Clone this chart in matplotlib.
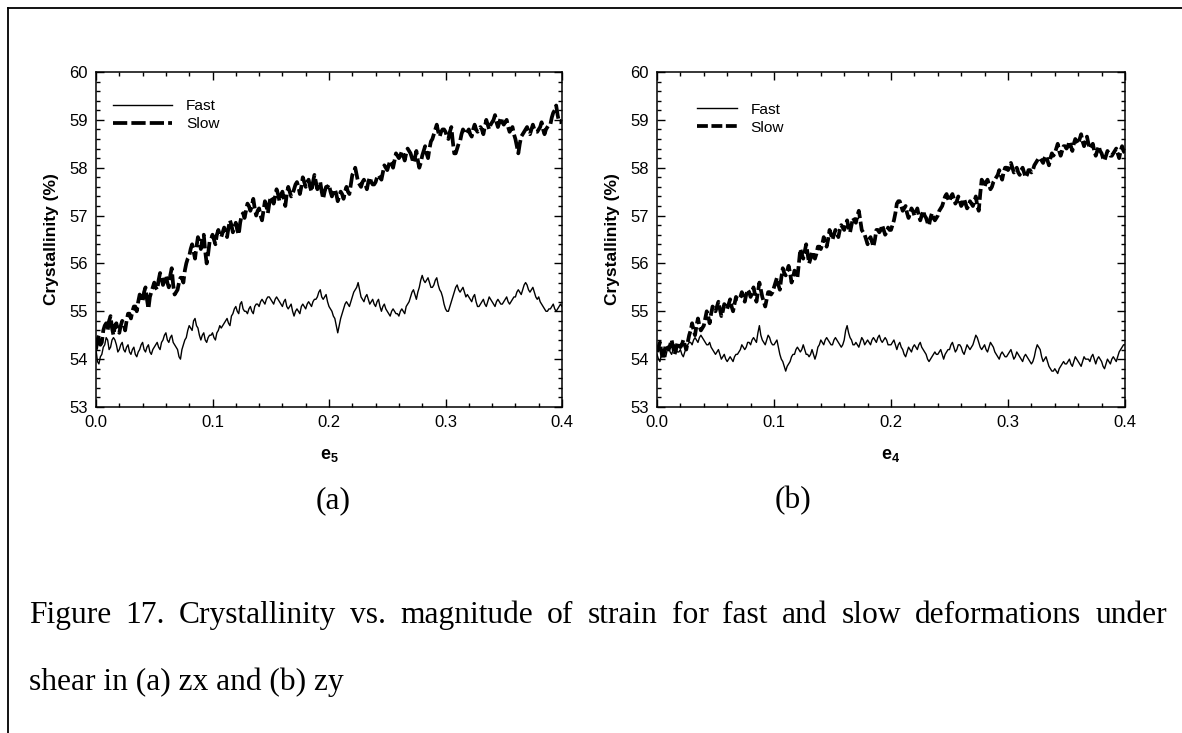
import numpy as np
import matplotlib
matplotlib.use("Agg")
import matplotlib.pyplot as plt
from matplotlib.lines import Line2D
from matplotlib.ticker import MultipleLocator

# ---------------- data ----------------
# samples on a 0.0025 grid plus the in-between samples (0.00125 offset)
strain = [round(i * 0.00125, 5) for i in range(321)]

slow_a = [
    54.2, 54.5, 54.35, 54.7, 54.6, 54.9, 54.5, 54.75, 54.55, 54.8, 54.6, 54.95,
    54.85, 55.1, 55.0, 55.35, 55.2, 55.5, 55.05, 55.4, 55.6, 55.45, 55.8, 55.55,
    55.75, 55.5, 55.9, 55.35, 55.45, 55.7, 55.6, 56.0, 56.15, 56.4, 56.1, 56.55,
    56.3, 56.6, 56.0, 56.45, 56.6, 56.4, 56.7, 56.55, 56.75, 56.55, 56.9, 56.65,
    56.85, 56.6, 57.0, 56.95, 57.25, 57.1, 57.35, 57.0, 57.15, 56.9, 57.3, 57.05,
    57.4, 57.25, 57.55, 57.3, 57.5, 57.2, 57.6, 57.4, 57.55, 57.7, 57.45, 57.8,
    57.6, 57.75, 57.5, 57.85, 57.55, 57.7, 57.35, 57.6, 57.65, 57.4, 57.55, 57.3,
    57.5, 57.35, 57.6, 57.45, 57.85, 58.0, 57.7, 57.6, 57.75, 57.55, 57.8, 57.65,
    57.7, 57.85, 57.75, 58.05, 57.95, 58.15, 58.0, 58.3, 58.2, 58.35, 58.15, 58.4,
    58.3, 58.1, 58.35, 58.0, 58.25, 58.45, 58.2, 58.55, 58.7, 58.9, 58.65, 58.8,
    58.75, 58.6, 58.85, 58.3, 58.4, 58.55, 58.8, 58.7, 58.8, 58.65, 58.9, 58.75,
    58.85, 58.7, 59.0, 58.8, 58.95, 59.1, 58.85, 59.05, 58.9, 59.0, 58.75, 58.85,
    58.6, 58.3, 58.65, 58.75, 58.85, 58.7, 58.9, 58.75, 58.8, 58.95, 58.7, 58.85,
    58.9, 59.15, 59.3, 58.95, 59.0,
]
slow_a_mid = [
    54.4, 54.3, 54.6, 54.75, 54.8, 54.65, 54.7, 54.6, 54.7, 54.75, 54.8, 54.95,
    55.0, 55.1, 55.2, 55.3, 55.4, 55.25, 55.3, 55.5, 55.5, 55.65, 55.7, 55.65,
    55.6, 55.75, 55.55, 55.4, 55.6, 55.7, 55.85, 56.1, 56.3, 56.25, 56.35, 56.45,
    56.5, 56.25, 56.2, 56.5, 56.5, 56.6, 56.6, 56.65, 56.65, 56.75, 56.8, 56.75,
    56.7, 56.85, 57.05, 57.1, 57.2, 57.2, 57.15, 57.1, 57.0, 57.1, 57.2, 57.25,
    57.35, 57.4, 57.45, 57.4, 57.35, 57.45, 57.5, 57.45, 57.65, 57.6, 57.6, 57.7,
    57.7, 57.6, 57.7, 57.7, 57.65, 57.5, 57.5, 57.6, 57.5, 57.5, 57.45, 57.4,
    57.45, 57.5, 57.5, 57.65, 57.9, 57.85, 57.65, 57.7, 57.65, 57.7, 57.7, 57.65,
    57.8, 57.8, 57.9, 58.0, 58.05, 58.1, 58.15, 58.25, 58.25, 58.25, 58.3, 58.35,
    58.2, 58.2, 58.15, 58.1, 58.35, 58.3, 58.4, 58.6, 58.8, 58.75, 58.75, 58.8,
    58.65, 58.75, 58.55, 58.3, 58.5, 58.7, 58.75, 58.75, 58.7, 58.8, 58.8, 58.8,
    58.8, 58.85, 58.9, 58.9, 59.0, 58.95, 58.95, 58.95, 58.95, 58.85, 58.8, 58.7,
    58.45, 58.5, 58.7, 58.8, 58.75, 58.8, 58.8, 58.75, 58.85, 58.8, 58.8, 58.9,
    59.05, 59.2, 59.1, 58.95,
]

fast_a = [
    54.2, 53.9, 54.1, 54.3, 54.4, 54.25, 54.45, 54.3, 54.2, 54.35, 54.15, 54.3,
    54.1, 54.25, 54.05, 54.2, 54.35, 54.15, 54.3, 54.1, 54.25, 54.35, 54.2, 54.4,
    54.55, 54.35, 54.5, 54.3, 54.2, 54.0, 54.3, 54.45, 54.7, 54.6, 54.85, 54.65,
    54.4, 54.55, 54.35, 54.5, 54.55, 54.4, 54.6, 54.65, 54.75, 54.85, 54.7, 54.95,
    55.1, 54.95, 55.2, 55.0, 54.95, 55.1, 54.95, 55.15, 55.1, 55.25, 55.15, 55.3,
    55.25, 55.15, 55.3, 55.2, 55.1, 55.25, 55.05, 55.15, 54.9, 55.05, 54.95, 55.15,
    55.05, 55.2, 55.1, 55.25, 55.3, 55.45, 55.25, 55.35, 55.1, 55.0, 54.85, 54.55,
    54.85, 55.05, 55.2, 55.1, 55.3, 55.45, 55.6, 55.3, 55.2, 55.35, 55.15, 55.25,
    55.1, 55.25, 55.0, 55.15, 55.0, 54.9, 55.05, 54.95, 54.9, 55.05, 54.95, 55.15,
    55.3, 55.45, 55.25, 55.5, 55.75, 55.6, 55.7, 55.5, 55.55, 55.7, 55.45, 55.3,
    55.05, 55.0, 55.2, 55.4, 55.55, 55.4, 55.5, 55.3, 55.3, 55.2, 55.35, 55.1,
    55.15, 55.25, 55.1, 55.3, 55.2, 55.1, 55.25, 55.15, 55.2, 55.3, 55.15, 55.25,
    55.3, 55.45, 55.35, 55.55, 55.55, 55.4, 55.5, 55.3, 55.3, 55.15, 55.05, 55.0,
    55.05, 55.15, 55.0, 55.1, 55.1,
]
fast_a_mid = [
    53.95, 54.05, 54.25, 54.45, 54.2, 54.4, 54.4, 54.15, 54.3, 54.2, 54.25, 54.15,
    54.2, 54.1, 54.15, 54.3, 54.2, 54.25, 54.15, 54.2, 54.3, 54.25, 54.35, 54.5,
    54.4, 54.45, 54.35, 54.25, 54.05, 54.2, 54.4, 54.6, 54.65, 54.8, 54.7, 54.5,
    54.5, 54.4, 54.45, 54.5, 54.45, 54.55, 54.7, 54.7, 54.8, 54.75, 54.9, 55.05,
    55.0, 55.15, 55.05, 55.0, 55.05, 55.0, 55.1, 55.15, 55.2, 55.2, 55.25, 55.3,
    55.2, 55.25, 55.25, 55.15, 55.2, 55.1, 55.1, 55.0, 55.0, 55.0, 55.1, 55.1,
    55.15, 55.15, 55.2, 55.25, 55.4, 55.3, 55.3, 55.2, 55.05, 54.9, 54.7, 54.7,
    54.95, 55.15, 55.15, 55.2, 55.4, 55.5, 55.45, 55.25, 55.3, 55.25, 55.2, 55.15,
    55.2, 55.1, 55.1, 55.05, 54.95, 55.0, 55.0, 54.95, 55.0, 55.0, 55.1, 55.2,
    55.4, 55.35, 55.4, 55.65, 55.65, 55.65, 55.6, 55.5, 55.65, 55.55, 55.4, 55.15,
    55.0, 55.1, 55.3, 55.5, 55.45, 55.45, 55.4, 55.35, 55.25, 55.3, 55.2, 55.1,
    55.2, 55.15, 55.2, 55.25, 55.15, 55.2, 55.2, 55.15, 55.25, 55.2, 55.2, 55.3,
    55.4, 55.4, 55.45, 55.6, 55.45, 55.45, 55.4, 55.25, 55.2, 55.1, 55.0, 55.05,
    55.1, 55.05, 55.05, 55.15,
]

slow_b = [
    54.15, 54.35, 54.0, 54.3, 54.2, 54.4, 54.1, 54.35, 54.25, 54.4, 54.2, 54.5,
    54.75, 54.5, 54.85, 54.6, 54.7, 55.0, 54.75, 55.1, 55.0, 55.2, 54.9, 55.15,
    55.05, 55.25, 55.0, 55.3, 55.25, 55.4, 55.2, 55.45, 55.3, 55.5, 55.2, 55.6,
    55.3, 55.1, 55.4, 55.35, 55.5, 55.7, 55.45, 55.9, 55.75, 55.95, 55.6, 55.85,
    55.7, 56.3, 56.1, 56.4, 56.0, 56.25, 56.1, 56.35, 56.3, 56.55, 56.35, 56.7,
    56.5, 56.7, 56.55, 56.8, 56.7, 56.9, 56.65, 56.95, 56.85, 57.1, 56.7, 56.6,
    56.4, 56.55, 56.35, 56.7, 56.65, 56.8, 56.6, 56.75, 56.7, 56.9, 57.25, 57.3,
    57.1, 57.2, 56.95, 57.15, 57.0, 57.15, 56.9, 57.1, 56.95, 56.8, 57.05, 56.9,
    57.0, 57.15, 57.3, 57.45, 57.3, 57.45, 57.25, 57.4, 57.2, 57.35, 57.15, 57.3,
    57.2, 57.4, 57.1, 57.75, 57.6, 57.75, 57.55, 57.7, 57.8, 57.95, 57.75, 58.0,
    57.95, 58.1, 57.9, 58.0, 57.85, 58.0, 57.8, 57.95, 57.9, 58.05, 58.15, 58.2,
    58.1, 58.25, 58.05, 58.3, 58.3, 58.5, 58.25, 58.45, 58.4, 58.55, 58.35, 58.6,
    58.5, 58.7, 58.45, 58.65, 58.4, 58.5, 58.25, 58.45, 58.3, 58.15, 58.35, 58.25,
    58.3, 58.4, 58.2, 58.45, 58.3,
]
slow_b_mid = [
    54.25, 54.15, 54.15, 54.25, 54.3, 54.25, 54.2, 54.3, 54.3, 54.3, 54.35, 54.6,
    54.6, 54.7, 54.7, 54.65, 54.85, 54.9, 54.95, 55.05, 55.1, 55.05, 55.0, 55.1,
    55.15, 55.1, 55.15, 55.25, 55.3, 55.3, 55.35, 55.4, 55.4, 55.35, 55.4, 55.45,
    55.2, 55.25, 55.4, 55.4, 55.6, 55.55, 55.7, 55.8, 55.85, 55.8, 55.7, 55.8,
    56.0, 56.2, 56.25, 56.2, 56.1, 56.15, 56.2, 56.35, 56.4, 56.45, 56.5, 56.6,
    56.6, 56.65, 56.7, 56.75, 56.8, 56.75, 56.8, 56.9, 57.0, 56.9, 56.65, 56.5,
    56.5, 56.45, 56.5, 56.7, 56.7, 56.7, 56.65, 56.7, 56.8, 57.05, 57.3, 57.2,
    57.15, 57.05, 57.05, 57.1, 57.05, 57.0, 57.0, 57.0, 56.85, 56.95, 56.95, 56.95,
    57.1, 57.2, 57.4, 57.35, 57.4, 57.35, 57.3, 57.3, 57.25, 57.25, 57.2, 57.25,
    57.3, 57.2, 57.45, 57.7, 57.7, 57.65, 57.6, 57.75, 57.85, 57.85, 57.9, 58.0,
    58.0, 58.0, 57.95, 57.9, 57.95, 57.9, 57.85, 57.95, 57.95, 58.1, 58.2, 58.15,
    58.2, 58.15, 58.2, 58.25, 58.4, 58.35, 58.35, 58.45, 58.45, 58.45, 58.5, 58.55,
    58.6, 58.55, 58.55, 58.5, 58.45, 58.35, 58.35, 58.35, 58.2, 58.25, 58.3, 58.25,
    58.35, 58.3, 58.35, 58.35,
]

fast_b = [
    54.1, 53.95, 54.2, 54.05, 54.25, 54.1, 54.3, 54.15, 54.2, 54.05, 54.25, 54.35,
    54.3, 54.45, 54.35, 54.5, 54.4, 54.3, 54.35, 54.2, 54.1, 54.2, 54.0, 54.1,
    53.95, 54.05, 53.95, 54.1, 54.15, 54.3, 54.2, 54.35, 54.3, 54.45, 54.35, 54.7,
    54.4, 54.3, 54.5, 54.35, 54.3, 54.4, 54.1, 53.95, 53.75, 53.9, 54.05, 54.1,
    54.25, 54.15, 54.3, 54.1, 54.05, 54.2, 54.0, 54.25, 54.4, 54.3, 54.45, 54.35,
    54.3, 54.45, 54.35, 54.25, 54.4, 54.7, 54.45, 54.3, 54.35, 54.25, 54.45, 54.3,
    54.4, 54.3, 54.45, 54.35, 54.5, 54.35, 54.45, 54.3, 54.3, 54.4, 54.2, 54.35,
    54.2, 54.05, 54.25, 54.15, 54.3, 54.2, 54.35, 54.2, 54.1, 53.95, 54.05, 54.15,
    54.1, 54.2, 54.0, 54.15, 54.2, 54.35, 54.15, 54.3, 54.25, 54.1, 54.3, 54.2,
    54.3, 54.5, 54.35, 54.2, 54.3, 54.15, 54.35, 54.25, 54.1, 54.0, 54.15, 54.05,
    54.1, 54.2, 54.0, 54.15, 54.05, 53.95, 54.1, 54.0, 53.9, 54.05, 54.3, 54.2,
    53.95, 54.05, 53.85, 53.75, 53.8, 53.7, 53.85, 53.95, 53.9, 54.0, 53.85, 54.05,
    53.95, 53.85, 54.05, 54.0, 53.95, 54.1, 53.9, 54.05, 53.95, 53.8, 54.0, 53.9,
    54.05, 53.95, 54.15, 54.25, 54.3,
]
fast_b_mid = [
    54.0, 54.1, 54.1, 54.2, 54.15, 54.2, 54.2, 54.15, 54.1, 54.15, 54.3, 54.35,
    54.4, 54.4, 54.45, 54.45, 54.35, 54.3, 54.25, 54.15, 54.15, 54.1, 54.05, 54.0,
    54.0, 54.0, 54.05, 54.1, 54.2, 54.25, 54.25, 54.35, 54.4, 54.4, 54.55, 54.5,
    54.35, 54.4, 54.45, 54.3, 54.35, 54.25, 54.0, 53.85, 53.85, 53.95, 54.1, 54.2,
    54.2, 54.2, 54.2, 54.1, 54.1, 54.1, 54.1, 54.3, 54.35, 54.4, 54.4, 54.3,
    54.4, 54.4, 54.3, 54.3, 54.6, 54.55, 54.4, 54.3, 54.3, 54.35, 54.4, 54.35,
    54.35, 54.4, 54.4, 54.45, 54.4, 54.4, 54.4, 54.3, 54.35, 54.3, 54.3, 54.25,
    54.1, 54.15, 54.2, 54.25, 54.25, 54.3, 54.25, 54.15, 54.0, 54.0, 54.1, 54.1,
    54.15, 54.1, 54.1, 54.2, 54.3, 54.25, 54.2, 54.3, 54.15, 54.2, 54.25, 54.25,
    54.4, 54.45, 54.25, 54.25, 54.2, 54.25, 54.3, 54.15, 54.05, 54.1, 54.1, 54.05,
    54.15, 54.1, 54.05, 54.1, 54.0, 54.05, 54.05, 53.95, 53.95, 54.2, 54.25, 54.05,
    54.0, 53.95, 53.8, 53.75, 53.75, 53.8, 53.9, 53.9, 53.95, 53.9, 53.95, 54.0,
    53.9, 53.95, 54.0, 54.0, 54.05, 54.0, 54.0, 54.0, 53.85, 53.9, 53.95, 54.0,
    54.0, 54.05, 54.2, 54.3,
]

x_ticks = [0.0, 0.1, 0.2, 0.3, 0.4]
x_ticklabels = ["0.0", "0.1", "0.2", "0.3", "0.4"]
y_ticks = [53, 54, 55, 56, 57, 58, 59, 60]
series_labels = ["Fast", "Slow"]
x_names = [r"$\mathbf{e_5}$", r"$\mathbf{e_4}$"]
panel_tags = ["(a)", "(b)"]
caption1 = "Figure 17. Crystallinity vs. magnitude of strain for fast and slow deformations under"
caption2 = "shear in (a) zx and (b) zy"


def merge(on_grid, between):
    out = []
    for k, v in enumerate(on_grid):
        out.append(v)
        if k < len(between):
            out.append(between[k])
    return out


# ---------------- styling ----------------
plt.rcParams["font.family"] = ["Liberation Sans", "DejaVu Sans"]
plt.rcParams["mathtext.fontset"] = "custom"
plt.rcParams["mathtext.rm"] = "Liberation Sans"
plt.rcParams["mathtext.bf"] = "Liberation Sans:bold"

W, H = 1182, 733
fig = plt.figure(figsize=(W / 100, H / 100), dpi=100)

def px_axes(l, r, t, b):
    return fig.add_axes([l / W, 1 - b / H, (r - l) / W, (b - t) / H])

axes = [px_axes(96, 562, 72, 407), px_axes(657, 1125, 72, 407)]
series = [(merge(fast_a, fast_a_mid), merge(slow_a, slow_a_mid)),
          (merge(fast_b, fast_b_mid), merge(slow_b, slow_b_mid))]
dash_specs = [(0, (3.8, 1.1)), (0, (2.9, 0.95))]
leg_pos = [(0.036, 0.918), (0.085, 0.908)]
leg_hlen = [3.85, 2.6]

for i, ax in enumerate(axes):
    fast, slow = series[i]
    ax.plot(strain, fast, color="black", lw=1.0, label=series_labels[0])
    ax.plot(strain, slow, color="black", lw=2.7, linestyle=dash_specs[i],
            label=series_labels[1])
    ax.set_xlim(0, 0.4)
    ax.set_ylim(53, 60)
    ax.set_xticks(x_ticks)
    ax.set_xticklabels(x_ticklabels)
    ax.set_yticks(y_ticks)
    ax.xaxis.set_minor_locator(MultipleLocator(0.02))
    ax.yaxis.set_minor_locator(MultipleLocator(0.2))
    ax.tick_params(which="both", direction="in", top=True, right=True,
                   labelsize=12, width=1.0, colors="black")
    ax.tick_params(which="major", length=6, pad=6)
    ax.tick_params(which="minor", length=3)
    for s in ax.spines.values():
        s.set_linewidth(1.1)
    ax.set_ylabel("Crystallinity (%)", fontsize=12.5, fontweight="bold", labelpad=7)
    ax.set_xlabel(x_names[i], fontsize=13, labelpad=12)
    ax.legend(loc="upper left", bbox_to_anchor=leg_pos[i], frameon=False,
              fontsize=11.1, handlelength=leg_hlen[i], handletextpad=0.9,
              borderpad=0, borderaxespad=0, labelspacing=0.24)

serif = "Liberation Serif"
cap_fs = 22.7
fig.text(333 / W, 1 - 508 / H, panel_tags[0], family=serif, fontsize=cap_fs,
         ha="center", va="baseline")
fig.text(793 / W, 1 - 508 / H, panel_tags[1], family=serif, fontsize=cap_fs,
         ha="center", va="baseline")

# caption line 1 is justified between left and right margins
renderer = fig.canvas.get_renderer()
words = caption1.split(" ")
left_px, right_px, base1, base2 = 29, 1167, 623, 690
wtexts = [fig.text(0, 1 - base1 / H, w, family=serif, fontsize=cap_fs,
                   ha="left", va="baseline") for w in words]
widths = [t.get_window_extent(renderer).width for t in wtexts]
gap = (right_px - left_px - sum(widths)) / (len(words) - 1)
xpos = left_px
for t, w in zip(wtexts, widths):
    t.set_x(xpos / W)
    xpos += w + gap
fig.text(left_px / W, 1 - base2 / H, caption2, family=serif, fontsize=cap_fs,
         ha="left", va="baseline")

# page border (left and top)
fig.add_artist(Line2D([8 / W, 8 / W], [0, 1 - 8 / H], color="black", lw=1.3,
                      transform=fig.transFigure))
fig.add_artist(Line2D([8 / W, 1], [1 - 8 / H, 1 - 8 / H], color="black", lw=1.3,
                      transform=fig.transFigure))

fig.savefig("out.png", dpi=100)
